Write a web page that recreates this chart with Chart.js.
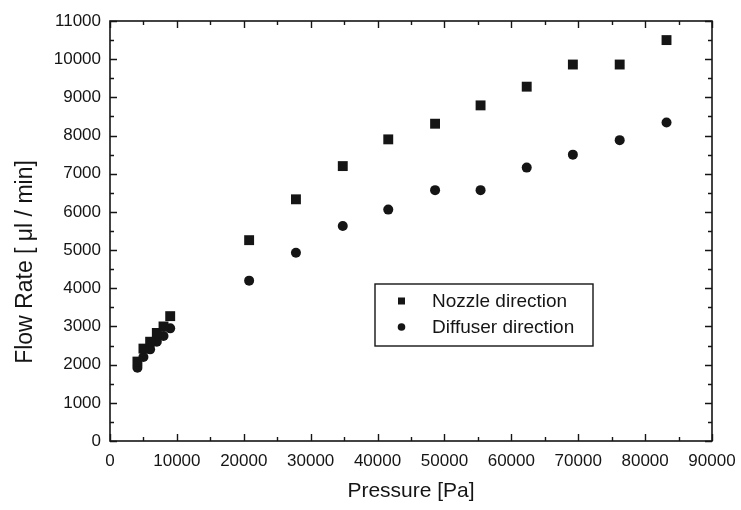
<!DOCTYPE html>
<html>
<head>
<meta charset="utf-8">
<script src="https://cdn.jsdelivr.net/npm/chart.js@4/dist/chart.umd.min.js"></script>
<style>
  html, body { margin: 0; padding: 0; background: #ffffff; }
  #wrap { width: 741px; height: 510px; }
</style>
</head>
<body>
<div id="wrap"><canvas id="c" width="741" height="510"></canvas></div>
<script>
// ---- data ----
const nozzlePressure = [4100, 5000, 6000, 7000, 8000, 9000, 20800, 27800, 34800, 41600, 48600, 55400, 62300, 69200, 76200, 83200];
const nozzleFlow     = [2080, 2420, 2600, 2830, 3000, 3270, 5260, 6330, 7200, 7900, 8310, 8790, 9280, 9860, 9860, 10500];
const diffuserPressure = [4100, 5000, 6000, 7000, 8000, 9000, 20800, 27800, 34800, 41600, 48600, 55400, 62300, 69200, 76200, 83200];
const diffuserFlow     = [1920, 2200, 2400, 2600, 2750, 2950, 4200, 4930, 5630, 6060, 6570, 6570, 7160, 7500, 7880, 8340];
const seriesLabels = ["Nozzle direction", "Diffuser direction"];
const xTitle = "Pressure [Pa]";
const yTitle = "Flow Rate [ \u03bcl / min]";
const xTickValues = [0, 10000, 20000, 30000, 40000, 50000, 60000, 70000, 80000, 90000];
const yTickValues = [0, 1000, 2000, 3000, 4000, 5000, 6000, 7000, 8000, 9000, 10000, 11000];

const INK = "#151515";
const FONT = "'Liberation Sans', Arial, Helvetica, sans-serif";

const toPoints = (xs, ys) => xs.map((x, i) => ({ x: x, y: ys[i] }));

// frame with inward ticks on all four sides
const framePlugin = {
  id: "frame",
  afterDatasetsDraw(chart) {
    const { ctx, chartArea: a, scales: { x, y } } = chart;
    ctx.save();
    ctx.strokeStyle = INK;
    ctx.lineWidth = 1.6;
    ctx.strokeRect(a.left, a.top, a.right - a.left, a.bottom - a.top);
    ctx.lineWidth = 1.4;
    ctx.beginPath();
    for (let v = x.min; v <= x.max; v += 5000) {
      const px = Math.round(x.getPixelForValue(v)) + 0.5;
      const len = (v % 10000 === 0) ? 7 : 4;
      ctx.moveTo(px, a.bottom); ctx.lineTo(px, a.bottom - len);
      ctx.moveTo(px, a.top); ctx.lineTo(px, a.top + len);
    }
    for (let v = y.min; v <= y.max; v += 500) {
      const py = Math.round(y.getPixelForValue(v)) + 0.5;
      const len = (v % 1000 === 0) ? 7 : 4;
      ctx.moveTo(a.left, py); ctx.lineTo(a.left + len, py);
      ctx.moveTo(a.right, py); ctx.lineTo(a.right - len, py);
    }
    ctx.stroke();

    // axis titles
    ctx.fillStyle = INK;
    ctx.textAlign = "center";
    ctx.textBaseline = "middle";
    ctx.font = "21px " + FONT;
    ctx.fillText(xTitle, (a.left + a.right) / 2, 491);
    ctx.save();
    ctx.translate(26, 262);
    ctx.rotate(-Math.PI / 2);
    ctx.font = "23px " + FONT;
    ctx.fillText(yTitle, 0, 0);
    ctx.restore();

    // legend box
    const bx = 375, by = 284, bw = 218, bh = 62;
    ctx.lineWidth = 1.4;
    ctx.strokeRect(bx, by, bw, bh);
    ctx.font = "19px " + FONT;
    ctx.textAlign = "left";
    chart.data.datasets.forEach((ds, i) => {
      const cy = 301 + i * 26;
      ctx.fillStyle = INK;
      if (ds.pointStyle === "rect") {
        ctx.fillRect(398, cy - 3.5, 7, 7);
      } else {
        ctx.beginPath(); ctx.arc(401.5, cy, 3.8, 0, Math.PI * 2); ctx.fill();
      }
      ctx.fillText(ds.label, 432, cy + 1);
    });
    ctx.restore();
  }
};

new Chart(document.getElementById("c"), {
  type: "scatter",
  data: {
    datasets: [
      {
        label: seriesLabels[0],
        data: toPoints(nozzlePressure, nozzleFlow),
        pointStyle: "rect",
        pointRadius: 7,
        pointHoverRadius: 7,
        backgroundColor: INK,
        borderColor: INK,
        borderWidth: 0
      },
      {
        label: seriesLabels[1],
        data: toPoints(diffuserPressure, diffuserFlow),
        pointStyle: "circle",
        pointRadius: 5,
        pointHoverRadius: 5,
        backgroundColor: INK,
        borderColor: INK,
        borderWidth: 0
      }
    ]
  },
  options: {
    responsive: false,
    animation: false,
    events: [],
    layout: { padding: { left: 0, right: 29, top: 21, bottom: 0 } },
    plugins: {
      legend: { display: false },
      tooltip: { enabled: false },
      title: { display: false }
    },
    scales: {
      x: {
        type: "linear",
        min: xTickValues[0],
        max: xTickValues[xTickValues.length - 1],
        afterBuildTicks: (s) => { s.ticks = xTickValues.map(v => ({ value: v })); },
        ticks: {
          callback: (v) => String(v),
          color: INK,
          font: { family: FONT, size: 17 },
          padding: 10,
          maxRotation: 0,
          autoSkip: false
        },
        grid: { display: false, drawTicks: false },
        border: { display: false },
        afterFit: (s) => { s.height = 69; s.paddingLeft = 0; s.paddingRight = 0; }
      },
      y: {
        type: "linear",
        min: yTickValues[0],
        max: yTickValues[yTickValues.length - 1],
        afterBuildTicks: (s) => { s.ticks = yTickValues.map(v => ({ value: v })); },
        ticks: {
          callback: (v) => String(v),
          color: INK,
          font: { family: FONT, size: 17 },
          padding: 9,
          autoSkip: false
        },
        grid: { display: false, drawTicks: false },
        border: { display: false },
        afterFit: (s) => { s.width = 110; s.paddingTop = 0; s.paddingBottom = 0; }
      }
    }
  },
  plugins: [framePlugin]
});
</script>
</body>
</html>
